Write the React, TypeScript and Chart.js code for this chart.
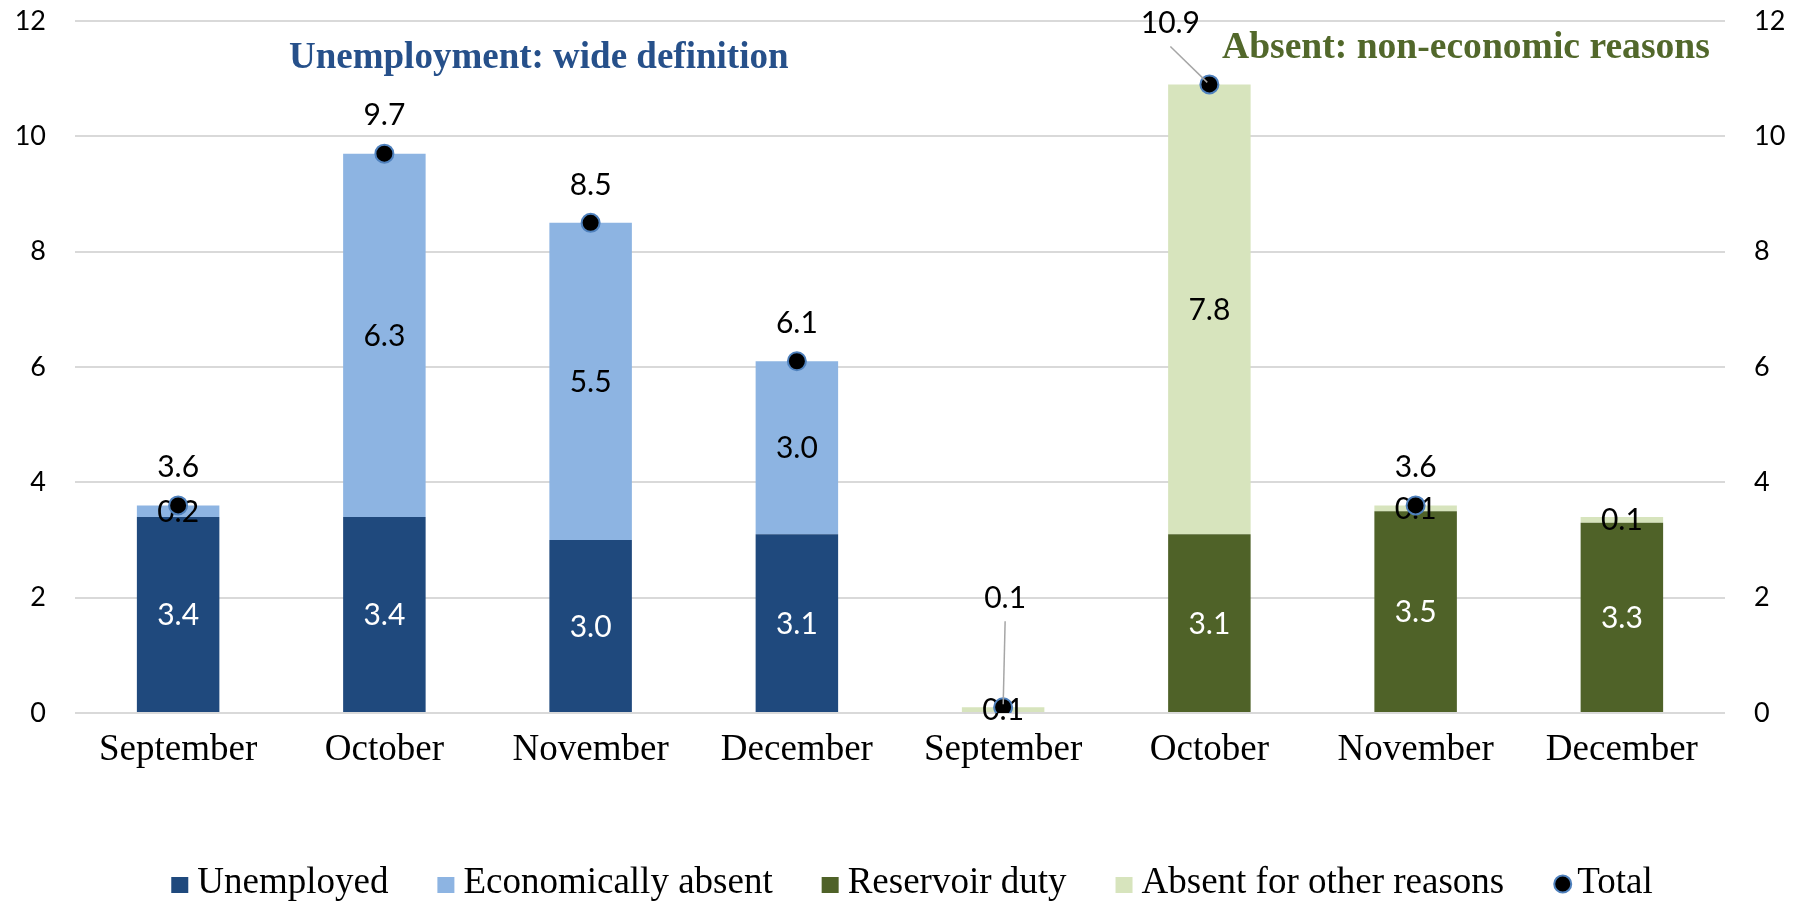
import React, { useEffect, useRef } from 'react';
import { Chart, registerables } from 'chart.js';

Chart.register(...registerables);

// ---------- Data ----------
const categories = ['September', 'October', 'November', 'December', 'September', 'October', 'November', 'December'];
const unemployed = [3.4, 3.4, 3.0, 3.1, null, null, null, null];
const economicallyAbsent = [0.2, 6.3, 5.5, 3.0, null, null, null, null];
const reservoirDuty = [null, null, null, null, 0, 3.1, 3.5, 3.3];
const absentOther = [null, null, null, null, 0.1, 7.8, 0.1, 0.1];
const totals = [3.6, 9.7, 8.5, 6.1, 0.1, 10.9, 3.6, null];
const seriesNames = ['Unemployed', 'Economically absent', 'Reservoir duty', 'Absent for other reasons', 'Total'];
const groupTitles = ['Unemployment: wide definition', 'Absent: non-economic reasons'];
const yMin = 0;
const yMax = 12;
const yStep = 2;

// ---------- Styles ----------
const C_UNEMP = '#1F497D';
const C_ECON = '#8DB4E2';
const C_RES = '#4F6228';
const C_OTHER = '#D7E4BD';
const C_DOT_BORDER = '#4F81BD';
const SERIF = '"Liberation Serif", "Times New Roman", serif';
const SANS = 'Lato, "Open Sans", sans-serif';

const overlayPlugin = {
  id: 'overlay',
  beforeDatasetDraw(chart: any, args: any) {
    if (args.meta.type !== 'line') return;
    const ctx = chart.ctx;
    ctx.save();
    ctx.font = `30px ${SANS}`;
    ctx.textAlign = 'center';
    ctx.textBaseline = 'middle';
    chart.data.datasets.forEach((ds: any, di: number) => {
      if (ds.type === 'line') return;
      const meta = chart.getDatasetMeta(di);
      meta.data.forEach((el: any, i: number) => {
        const v = ds.data[i];
        if (v == null || v === 0) return;
        const p = el.getProps(['x', 'y', 'base'], true);
        ctx.fillStyle = ds.labelColor;
        ctx.fillText(v.toFixed(1), p.x, (p.y + p.base) / 2 + 1);
      });
    });
    ctx.restore();
  },
  afterDatasetsDraw(chart: any, _args: any, opts: any) {
    const ctx = chart.ctx;
    ctx.save();
    const di = chart.data.datasets.findIndex((d: any) => d.type === 'line');
    const ds = chart.data.datasets[di];
    const meta = chart.getDatasetMeta(di);
    ctx.font = `30px ${SANS}`;
    ctx.textAlign = 'center';
    ctx.textBaseline = 'middle';
    meta.data.forEach((el: any, i: number) => {
      const v = ds.data[i];
      if (v == null) return;
      const off = opts.offsets[i] || { dx: 0, dy: -38 };
      const lx = el.x + off.dx;
      const ly = el.y + off.dy;
      if (off.leader) {
        ctx.strokeStyle = '#A6A6A6';
        ctx.lineWidth = 1.5;
        ctx.beginPath();
        ctx.moveTo(lx, ly + 23);
        const ang = Math.atan2(el.y - (ly + 23), el.x - lx);
        ctx.lineTo(el.x - Math.cos(ang) * 3, el.y - Math.sin(ang) * 3);
        ctx.stroke();
      }
      ctx.fillStyle = '#000';
      ctx.fillText(v.toFixed(1), lx, ly);
    });
    ctx.restore();
  },
  afterDraw(chart: any, _args: any, opts: any) {
    const ctx = chart.ctx;
    ctx.save();
    // group titles
    ctx.font = `bold 37px ${SERIF}`;
    ctx.textBaseline = 'alphabetic';
    ctx.textAlign = 'left';
    ctx.fillStyle = '#26508A';
    ctx.fillText(groupTitles[0], 289, 68);
    ctx.font = `bold 37.6px ${SERIF}`;
    ctx.fillStyle = '#52682B';
    ctx.fillText(groupTitles[1], 1222, 58);

    // legend
    ctx.font = `37px ${SERIF}`;
    const items = chart.data.datasets
      .map((d: any, i: number) => ({ d, i }))
      .sort((a: any, b: any) => a.d.legendIndex - b.d.legendIndex);
    const gapBoxText = 9;
    const gapItems = 49;
    const widths = items.map((it: any) => {
      const bw = it.d.type === 'line' ? 19 : 17;
      const gap = it.d.type === 'line' ? 5 : gapBoxText;
      return bw + gap + ctx.measureText(it.d.label).width;
    });
    const total = widths.reduce((a: number, b: number) => a + b, 0) + gapItems * (items.length - 1);
    let x = opts.legendCenter - total / 2;
    const baseY = 893;
    items.forEach((it: any, k: number) => {
      const d = it.d;
      if (d.type === 'line') {
        ctx.beginPath();
        ctx.arc(x + 9.5, baseY - 9, 8.5, 0, Math.PI * 2);
        ctx.fillStyle = '#000';
        ctx.fill();
        ctx.lineWidth = 2;
        ctx.strokeStyle = C_DOT_BORDER;
        ctx.stroke();
        ctx.fillStyle = '#000';
        ctx.textAlign = 'left';
        ctx.fillText(d.label, x + 19 + 5, baseY);
      } else {
        ctx.fillStyle = d.backgroundColor;
        ctx.fillRect(x, baseY - 16, 17, 16);
        ctx.fillStyle = '#000';
        ctx.textAlign = 'left';
        ctx.fillText(d.label, x + 17 + gapBoxText, baseY);
      }
      x += widths[k] + gapItems;
    });
    ctx.restore();
  },
};

export default function App() {
  const ref = useRef<HTMLCanvasElement | null>(null);
  useEffect(() => {
    document.body.style.margin = '0';
    if (!ref.current) return;
    const chart = new Chart(ref.current, {
      type: 'bar',
      data: {
        labels: categories,
        datasets: [
          {
            type: 'line',
            label: seriesNames[4],
            data: totals,
            showLine: false,
            pointRadius: 9,
            pointHoverRadius: 9,
            pointBackgroundColor: '#000',
            pointBorderColor: C_DOT_BORDER,
            pointBorderWidth: 2,
            borderColor: C_DOT_BORDER,
            backgroundColor: '#000',
            order: 0,
            legendIndex: 4,
          } as any,
          {
            type: 'bar',
            label: seriesNames[0],
            data: unemployed,
            backgroundColor: C_UNEMP,
            stack: 's',
            order: 1,
            labelColor: '#FFFFFF',
            legendIndex: 0,
          } as any,
          {
            type: 'bar',
            label: seriesNames[1],
            data: economicallyAbsent,
            backgroundColor: C_ECON,
            stack: 's',
            order: 1,
            labelColor: '#000000',
            legendIndex: 1,
          } as any,
          {
            type: 'bar',
            label: seriesNames[2],
            data: reservoirDuty,
            backgroundColor: C_RES,
            stack: 's',
            order: 1,
            labelColor: '#FFFFFF',
            legendIndex: 2,
          } as any,
          {
            type: 'bar',
            label: seriesNames[3],
            data: absentOther,
            backgroundColor: C_OTHER,
            stack: 's',
            order: 1,
            labelColor: '#000000',
            legendIndex: 3,
          } as any,
        ],
      },
      options: {
        responsive: false,
        animation: false,
        events: [],
        layout: { padding: { top: 21, left: 0, right: 0, bottom: 133 } },
        datasets: { bar: { barPercentage: 0.4, categoryPercentage: 1 } },
        plugins: {
          legend: { display: false },
          tooltip: { enabled: false },
          title: { display: false },
          overlay: {
            legendCenter: 912,
            offsets: {
              4: { dx: 2, dy: -109, leader: true },
              5: { dx: -39, dy: -61, leader: true },
            },
          },
        } as any,
        scales: {
          x: {
            stacked: true,
            grid: { display: false },
            border: { display: false },
            ticks: {
              autoSkip: false,
              maxRotation: 0,
              padding: 7,
              color: '#000',
              font: { family: SERIF, size: 37 },
            },
            afterFit: (s: any) => {
              s.height = 56;
              s.paddingLeft = 0;
              s.paddingRight = 0;
            },
          },
          y: {
            stacked: true,
            position: 'left',
            min: yMin,
            max: yMax,
            grid: { color: '#D9D9D9', lineWidth: 2, drawTicks: false },
            border: { display: false },
            ticks: { stepSize: yStep, padding: 29, color: '#000', font: { family: SANS, size: 27 } },
            afterFit: (s: any) => {
              s.width = 75;
              s.paddingTop = 0;
              s.paddingBottom = 0;
            },
          },
          y2: {
            position: 'right',
            min: yMin,
            max: yMax,
            grid: { display: false, drawTicks: false },
            border: { display: false },
            ticks: { stepSize: yStep, padding: 29, color: '#000', font: { family: SANS, size: 27 } },
            afterFit: (s: any) => {
              s.width = 73;
              s.paddingTop = 0;
              s.paddingBottom = 0;
            },
          },
        } as any,
      },
      plugins: [overlayPlugin],
    });
    return () => chart.destroy();
  }, []);
  return (
    <div style={{ width: 1798, height: 902, background: '#fff' }}>
      <canvas ref={ref} width={1798} height={902} style={{ display: 'block' }} />
    </div>
  );
}
